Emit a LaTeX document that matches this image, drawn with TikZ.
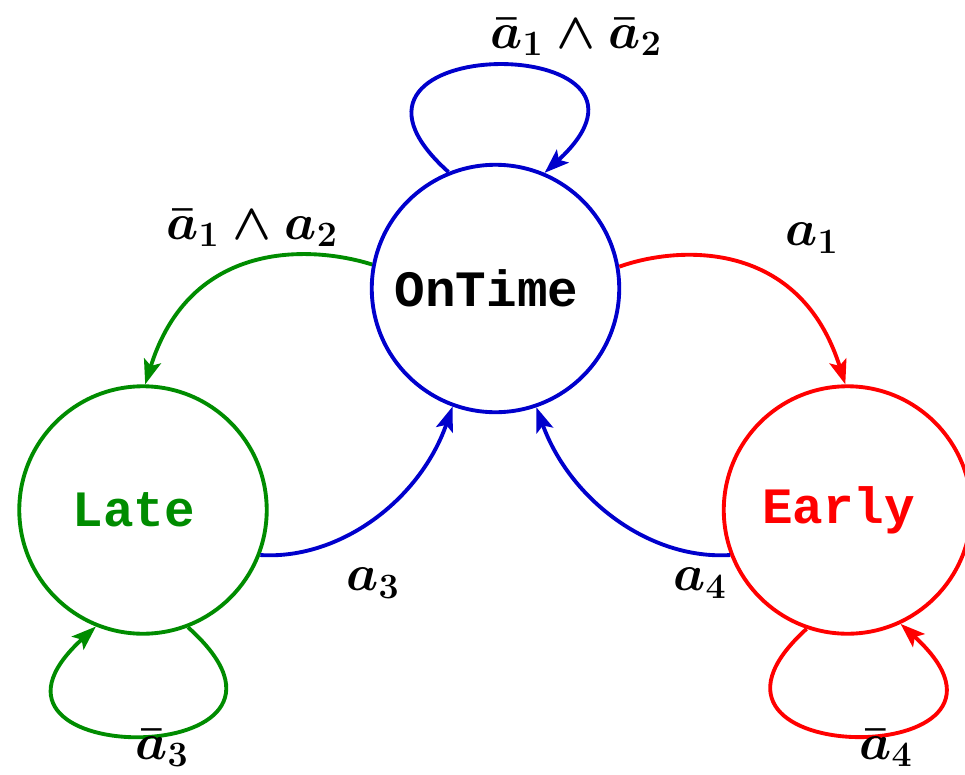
\RequirePackage{fix-cm}
\documentclass[tikz,border=0pt]{standalone}
\usepackage{amsmath}
\usepackage{fontspec}
\newfontfamily\statefont{Liberation Mono}
\usetikzlibrary{arrows.meta}
\definecolor{myblue}{RGB}{0,0,204}
\definecolor{mygreen}{RGB}{0,140,0}
\definecolor{myred}{RGB}{255,0,0}
\begin{document}
\begin{tikzpicture}[x=0.02cm,y=-0.02cm,
  state/.style={circle,draw,line width=2.2pt,minimum size=4.95cm,inner sep=0pt,
    font=\statefont\bfseries\fontsize{29}{34}\selectfont},
  edge/.style={line width=2.2pt,-{Stealth[length=14pt,width=10pt,inset=3pt]}},
  lab/.style={font=\fontsize{29}{34}\selectfont\boldmath,inner sep=0pt}]
\useasboundingbox (0,0) rectangle (965,775);
\node[state,draw=myblue] (ot) at (495.5,288.5) {OnTime\kern0.36cm};
\node[state,draw=mygreen,text=mygreen] (late) at (143,510) {Late\kern0.36cm};
\node[state,draw=myred,text=myred] (early) at (847.5,510) {Early\kern0.36cm};
% self loops
\draw[edge,myblue] (ot.112.7) .. controls (290,30) and (700,30) .. (ot.67.3);
\draw[edge,mygreen] (late.-69) .. controls (350,772) and (-64,772) .. (late.248.7);
\draw[edge,myred] (early.251.5) .. controls (649,772) and (1063,772) .. (early.-65.2);
% transitions
\draw[edge,mygreen] (ot.169.2) .. controls (310,245) and (190,240) .. (late.89);
\draw[edge,myred] (ot.10.8) .. controls (680,245) and (800,240) .. (early.91);
\draw[edge,myblue] (late.-21.4) .. controls (340,560) and (420,500) .. (ot.250.6);
\draw[edge,myblue] (early.201.7) .. controls (650,560) and (570,500) .. (ot.289.4);
% labels
\node[lab] (l0) at (576,37) {$\bar a_1 \wedge \bar a_2$};
\node[lab] (l1) at (252,228) {$\bar a_1 \wedge a_2$};
\node[lab] (l2) at (812,238) {$a_1$};
\node[lab] (l3) at (373,583) {$a_3$};
\node[lab] (l4) at (700,583) {$a_4$};
\node[lab] (l5) at (162,748) {$\bar a_3$};
\node[lab] (l6) at (886,748) {$\bar a_4$};
\end{tikzpicture}
\end{document}
